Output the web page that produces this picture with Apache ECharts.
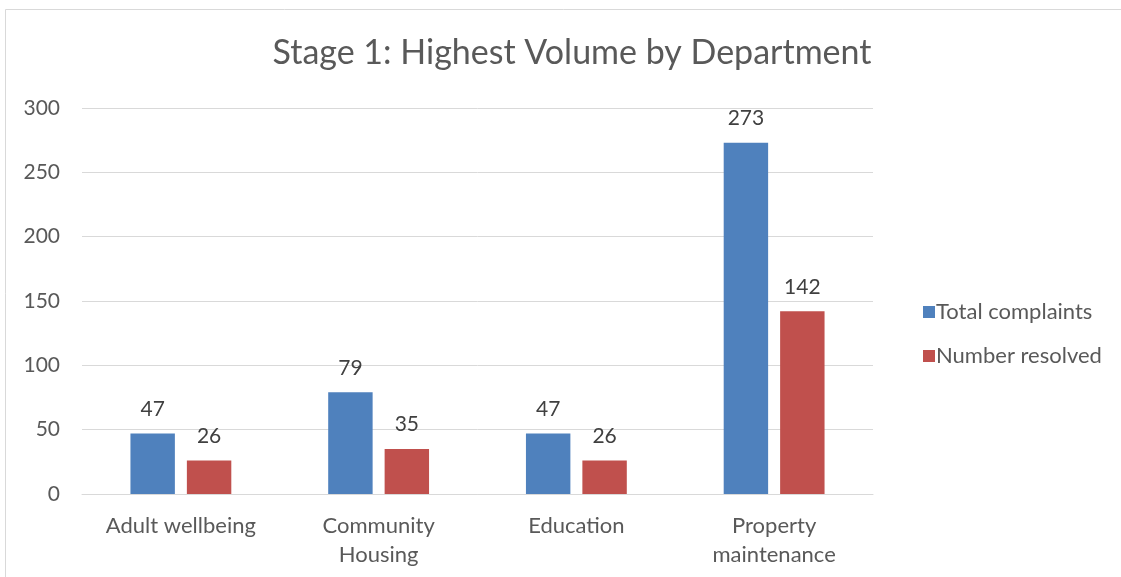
<!DOCTYPE html>
<html><head><meta charset="utf-8">
<script src="https://cdn.jsdelivr.net/npm/echarts@6/dist/echarts.min.js"></script>
<style>html,body{margin:0;padding:0;background:#fff}#c{width:1121px;height:577px}</style>
</head><body><div id="c"></div>
<script>
const categories = ['Adult wellbeing', 'Community\nHousing', 'Education', 'Property\nmaintenance'];
const totalComplaints = [47, 79, 47, 273];
const numberResolved = [26, 35, 26, 142];
const seriesNames = ['Total complaints', 'Number resolved'];
const FONT = 'Lato, "Open Sans", sans-serif';
const chart = echarts.init(document.getElementById('c'), null, {renderer: 'canvas'});
chart.setOption({
  animation: false,
  backgroundColor: '#fff',
  textStyle: {fontFamily: FONT},
  graphic: [{type: 'rect', shape: {x: 5.5, y: 9.5, width: 1300, height: 800}, style: {fill: 'none', stroke: '#d9d9d9', lineWidth: 1}, silent: true}],
  title: {text: 'Stage 1: Highest Volume by Department', left: 567, textAlign: 'center', top: 31,
    textStyle: {fontFamily: FONT, fontSize: 34, fontWeight: 'normal', color: '#595959'}},
  legend: {orient: 'vertical', left: 918, top: 296, itemWidth: 12, itemHeight: 12, itemGap: 22,
    icon: 'rect', data: seriesNames,
    textStyle: {fontFamily: FONT, fontSize: 22, color: '#595959', padding: [0, 0, 0, -4]}},
  grid: {left: 82, right: 248, top: 108, bottom: 83, containLabel: false},
  xAxis: {type: 'category', data: categories,
    axisLine: {lineStyle: {color: '#d9d9d9', width: 1}}, axisTick: {show: false},
    axisLabel: {fontFamily: FONT, fontSize: 22, color: '#595959', margin: 17, lineHeight: 29, interval: 0}},
  yAxis: {type: 'value', min: 0, max: 300, interval: 50,
    axisLine: {show: false}, axisTick: {show: false},
    splitLine: {lineStyle: {color: '#d9d9d9', width: 1}},
    axisLabel: {fontFamily: FONT, fontSize: 21, color: '#595959', margin: 22}},
  series: [
    {name: seriesNames[0], type: 'bar', data: totalComplaints, barGap: '27%', barCategoryGap: '49%',
      itemStyle: {color: '#4F81BD'},
      label: {show: true, position: 'top', distance: 14, fontFamily: FONT, fontSize: 21, color: '#404040'}},
    {name: seriesNames[1], type: 'bar', data: numberResolved,
      itemStyle: {color: '#C0504D'},
      label: {show: true, position: 'top', distance: 14, fontFamily: FONT, fontSize: 21, color: '#404040'}}
  ]
});
</script></body></html>
